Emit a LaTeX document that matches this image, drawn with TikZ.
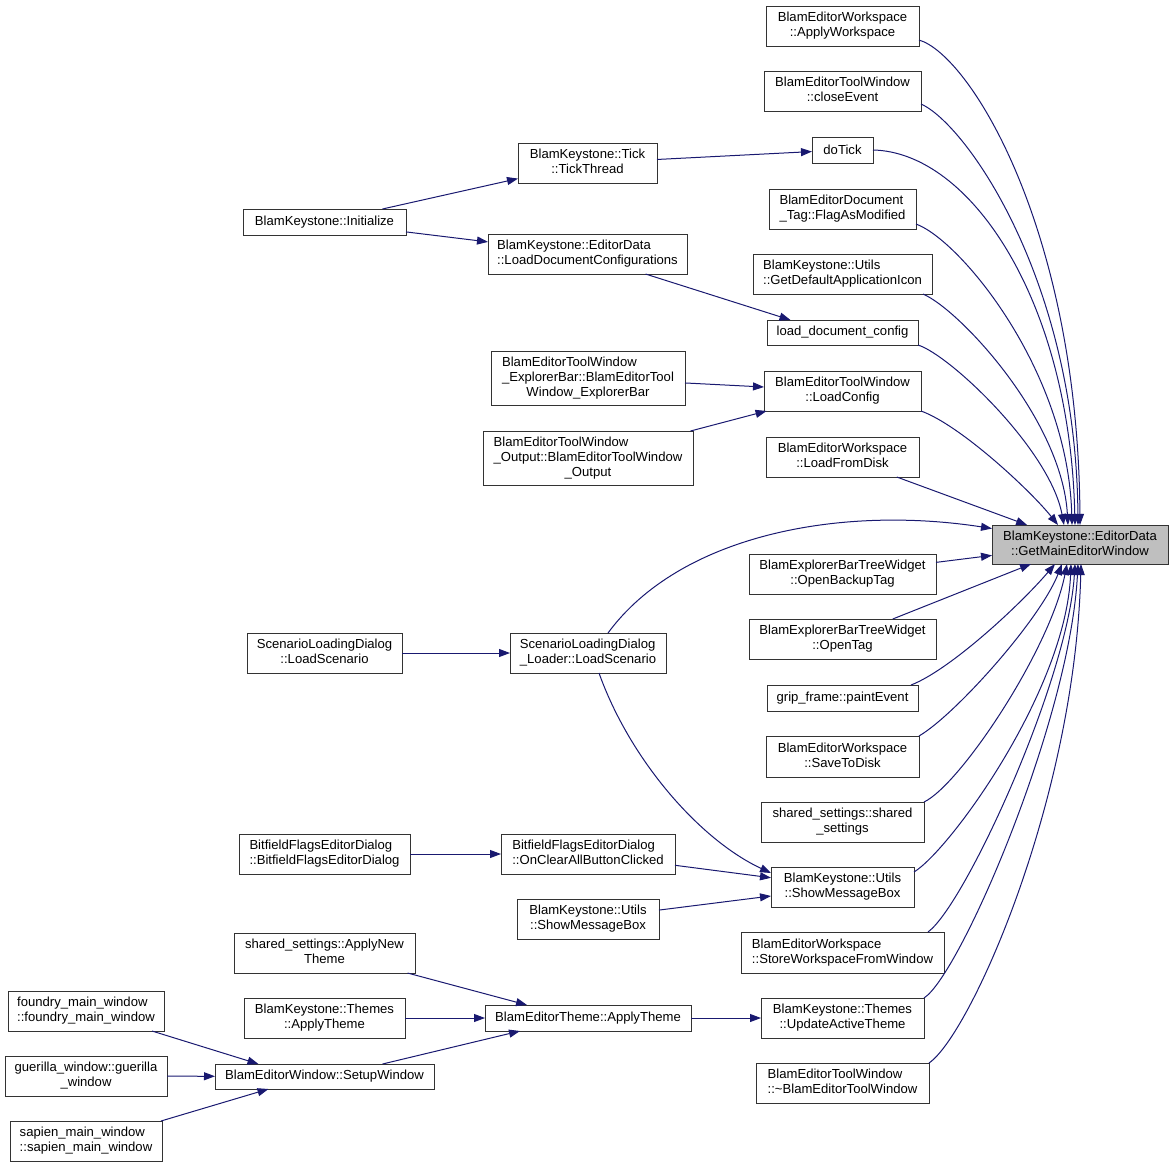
\documentclass[tikz,border=0pt]{standalone}
\usepackage{fontspec}
\setmainfont{Liberation Sans}
\usetikzlibrary{arrows.meta,calc}
\definecolor{edgec}{RGB}{25,25,112}
\definecolor{mainfill}{RGB}{191,191,191}
\newcommand{\twol}[2]{\begin{tabular}{@{}l@{}}#1\\\multicolumn{1}{@{}c@{}}{#2}\end{tabular}}
\newcommand{\threel}[3]{\begin{tabular}{@{}l@{}}#1\\#2\\\multicolumn{1}{@{}c@{}}{#3}\end{tabular}}
\newcommand{\dxbox}[6][]{\node[box,#1,minimum width={(#4-#2)*1pt},minimum height={(#5-#3)*1pt}] (#6) at ({(#2+#4)/2},{(#3+#5)/2})}
\begin{document}
\begin{tikzpicture}[x=1pt,y=-1pt,
  box/.style={draw=black!80,line width=1pt,fill=white,rectangle,inner sep=0pt,outer sep=0pt,
    font=\fontsize{13.1}{15}\selectfont},
  mainbox/.style={fill=mainfill},
  cedge/.style={draw=edgec,line width=1pt,-{Triangle[length=11pt,width=8pt]}}]
\useasboundingbox (0,0) rectangle (1173,1168);
% right column
\dxbox{766}{6}{919}{46}{aw}{\twol{BlamEditorWorkspace}{::ApplyWorkspace}};
\dxbox{764}{71}{921}{111}{ce}{\twol{BlamEditorToolWindow}{::closeEvent}};
\dxbox{812}{137}{873}{163}{dt}{doTick};
\dxbox{769}{189}{916}{229}{fm}{\twol{BlamEditorDocument}{\_Tag::FlagAsModified}};
\dxbox{753}{254}{932}{294}{gi}{\twol{BlamKeystone::Utils}{::GetDefaultApplicationIcon}};
\dxbox{767}{320}{918}{345}{ld}{load\_document\_config};
\dxbox{764}{371}{921}{411}{lc}{\twol{BlamEditorToolWindow}{::LoadConfig}};
\dxbox{766}{437}{919}{477}{lf}{\twol{BlamEditorWorkspace}{::LoadFromDisk}};
\dxbox[mainbox]{992}{525}{1168}{564}{gm}{\twol{BlamKeystone::EditorData}{::GetMainEditorWindow}};
\dxbox{749}{554}{936}{594}{ob}{\twol{BlamExplorerBarTreeWidget}{::OpenBackupTag}};
\dxbox{749}{619}{936}{659}{ot}{\twol{BlamExplorerBarTreeWidget}{::OpenTag}};
\dxbox{767}{685}{918}{711}{pe}{grip\_frame::paintEvent};
\dxbox{766}{736}{919}{777}{sd}{\twol{BlamEditorWorkspace}{::SaveToDisk}};
\dxbox{761}{802}{924}{842}{ss}{\twol{shared\_settings::shared}{\_settings}};
\dxbox{771}{867}{914}{907}{sm}{\twol{BlamKeystone::Utils}{::ShowMessageBox}};
\dxbox{741}{932}{944}{973}{sw}{\twol{BlamEditorWorkspace}{::StoreWorkspaceFromWindow}};
\dxbox{761}{998}{924}{1038}{ua}{\twol{BlamKeystone::Themes}{::UpdateActiveTheme}};
\dxbox{756}{1063}{929}{1103}{dw}{\twol{BlamEditorToolWindow}{::\textasciitilde BlamEditorToolWindow}};
% middle column
\dxbox{518}{143}{657}{183}{tt}{\twol{BlamKeystone::Tick}{::TickThread}};
\dxbox{488}{234}{687}{274}{ldc}{\twol{BlamKeystone::EditorData}{::LoadDocumentConfigurations}};
\dxbox{491}{351}{685}{405}{eb}{\threel{BlamEditorToolWindow}{\_ExplorerBar::BlamEditorTool}{Window\_ExplorerBar}};
\dxbox{483}{431}{693}{485}{op}{\threel{BlamEditorToolWindow}{\_Output::BlamEditorToolWindow}{\_Output}};
\dxbox{510}{633}{666}{673}{sll}{\twol{ScenarioLoadingDialog}{\_Loader::LoadScenario}};
\dxbox{501}{834}{675}{874}{oc}{\twol{BitfieldFlagsEditorDialog}{::OnClearAllButtonClicked}};
\dxbox{517}{899}{659}{939}{sml}{\twol{BlamKeystone::Utils}{::ShowMessageBox}};
\dxbox{485}{1005}{691}{1031}{et}{BlamEditorTheme::ApplyTheme};
% left columns
\dxbox{243}{209}{406}{235}{ini}{BlamKeystone::Initialize};
\dxbox{247}{633}{402}{673}{sl}{\twol{ScenarioLoadingDialog}{::LoadScenario}};
\dxbox{239}{834}{410}{874}{bf}{\twol{BitfieldFlagsEditorDialog}{::BitfieldFlagsEditorDialog}};
\dxbox{234}{933}{415}{973}{an}{\twol{shared\_settings::ApplyNew}{Theme}};
\dxbox{244}{998}{405}{1038}{ta}{\twol{BlamKeystone::Themes}{::ApplyTheme}};
\dxbox{215}{1064}{434}{1089}{su}{BlamEditorWindow::SetupWindow};
\dxbox{8}{991}{164}{1031}{fw}{\twol{foundry\_main\_window}{::foundry\_main\_window}};
\dxbox{5}{1056}{167}{1096}{gw}{\twol{guerilla\_window::guerilla}{\_window}};
\dxbox{10}{1121}{162}{1161}{sp}{\twol{sapien\_main\_window}{::sapien\_main\_window}};
% straight edges
\draw[cedge] (ini) -- (tt);
\draw[cedge] (ini) -- (ldc);
\draw[cedge] (tt) -- (dt);
\draw[cedge] ($(ldc.south)+(58,0)$) -- ($(ld.north)+(-52,0)$);
\draw[cedge] (eb) -- (lc);
\draw[cedge] (op) -- (lc);
\draw[cedge] (sl) -- (sll);
\draw[cedge] (bf) -- (oc);
\draw[cedge] (oc) -- (sm);
\draw[cedge] (sml) -- (sm);
\draw[cedge] ($(an.south)+(83,0)$) -- ($(et.north)+(-61,0)$);
\draw[cedge] (ta) -- (et);
\draw[cedge] ($(su.north)+(58,0)$) -- ($(et.south)+(-68,0)$);
\draw[cedge] ($(fw.south)+(66,0)$) -- ($(su.north)+(-66,0)$);
\draw[cedge] (gw) -- (su);
\draw[cedge] ($(sp.north)+(75,0)$) -- ($(su.south)+(-56,0)$);
\draw[cedge] (et) -- (ua);
\draw[cedge] (lf) -- (gm);
\draw[cedge] (ob) -- (gm);
\draw[cedge] (ot) -- (gm);
% curved edges
\draw[cedge] ($(sll.north)+(20,0)$) .. controls (680,535) and (840,505) .. ($(gm.west)+(0,-16)$);
\draw[cedge] ($(sll.south)+(11,0)$) .. controls (630,760) and (700,840) .. ($(sm.west)+(0,-14)$);
\draw[cedge] ($(aw.south east)+(0,-6)$) .. controls (970,55) and (1078,230) .. ($(gm.north)+(0,0)$);
\draw[cedge] ($(ce.south east)+(0,-7)$) .. controls (966,124) and (1076,280) .. ($(gm.north)+(-2,0)$);
\draw[cedge] (dt.east) .. controls (970,152) and (1070,300) .. ($(gm.north)+(-5,0)$);
\draw[cedge] ($(fm.south east)+(0,-5)$) .. controls (960,240) and (1068,370) .. ($(gm.north)+(-8,0)$);
\draw[cedge] ($(gi.south east)+(-9,0)$) .. controls (960,310) and (1062,420) .. ($(gm.north)+(-12,0)$);
\draw[cedge] (ld.south east) .. controls (950,355) and (1050,450) .. ($(gm.north)+(-16,0)$);
\draw[cedge] (lc.south east) .. controls (960,425) and (1030,490) .. ($(gm.north)+(-22,0)$);
\draw[cedge] ($(pe.north east)+(-7,0)$) .. controls (950,670) and (1020,605) .. ($(gm.south)+(-25,0)$);
\draw[cedge] (sd.north east) .. controls (955,715) and (1040,620) .. ($(gm.south)+(-18,0)$);
\draw[cedge] (ss.north east) .. controls (960,785) and (1050,650) .. ($(gm.south)+(-13,0)$);
\draw[cedge] ($(sm.east)+(0,-15)$) .. controls (950,850) and (1066,690) .. ($(gm.south)+(-9,0)$);
\draw[cedge] ($(sw.north east)+(-16,0)$) .. controls (965,905) and (1068,680) .. ($(gm.south)+(-5,0)$);
\draw[cedge] (ua.north east) .. controls (960,975) and (1070,720) .. ($(gm.south)+(-2,0)$);
\draw[cedge] (dw.north east) .. controls (970,1035) and (1075,800) .. ($(gm.south)+(1,0)$);
\end{tikzpicture}
\end{document}
